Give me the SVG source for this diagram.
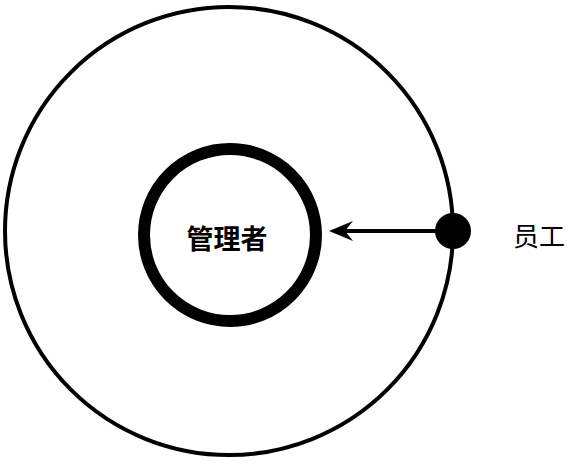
<svg xmlns="http://www.w3.org/2000/svg" width="569" height="466" viewBox="0 0 569 466">
<style>
.ring{fill:none;stroke:#000}
.lbl{font-family:"Noto Sans CJK SC","Noto Sans",sans-serif;fill:#000;text-anchor:middle;dominant-baseline:central}
</style>
<defs>
<marker id="ah" viewBox="0 0 24 22" refX="10" refY="11" markerWidth="24" markerHeight="22" markerUnits="userSpaceOnUse" orient="auto">
<path d="M24,11 L0,1 L8,11 L0,21 Z" fill="#000"/>
</marker>
</defs>
<rect width="569" height="466" fill="#fff"/>
<g id="outer">
<circle class="ring" cx="229" cy="231" r="224" stroke-width="4"/>
</g>
<g id="manager">
<circle class="ring" cx="230" cy="235" r="86" stroke-width="12"/>
<text class="lbl" x="227" y="237" font-size="27" font-weight="bold">管理者</text>
</g>
<g id="staff">
<circle cx="453" cy="231" r="18" fill="#000"/>
<text class="lbl" x="539" y="234" font-size="26">员工</text>
</g>
<g id="connectors">
<line x1="453" y1="231" x2="343" y2="231" stroke="#000" stroke-width="4" marker-end="url(#ah)"/>
</g>
</svg>
